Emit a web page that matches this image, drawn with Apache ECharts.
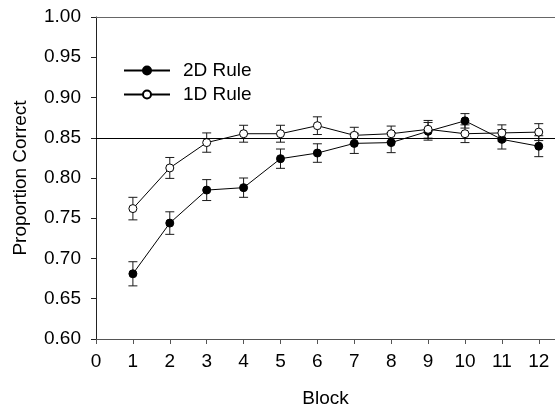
<!DOCTYPE html>
<html>
<head>
<meta charset="utf-8">
<script src="https://cdn.jsdelivr.net/npm/echarts@6/dist/echarts.min.js"></script>
<style>html,body{margin:0;padding:0;background:#fff}#c{width:555px;height:408px}</style>
</head>
<body>
<div id="c"></div>
<script>
const blocks = [1,2,3,4,5,6,7,8,9,10,11,12];
const rule2D = [0.681,0.744,0.785,0.788,0.824,0.831,0.843,0.844,0.858,0.871,0.848,0.8395];
const rule2DErr = [0.015,0.014,0.013,0.012,0.012,0.0115,0.0125,0.0125,0.011,0.009,0.012,0.013];
const rule1D = [0.762,0.8125,0.844,0.855,0.855,0.865,0.853,0.855,0.8605,0.855,0.856,0.857];
const rule1DErr = [0.014,0.013,0.012,0.0105,0.0105,0.011,0.01,0.0095,0.011,0.011,0.01,0.0105];
const xTicks = [0,1,2,3,4,5,6,7,8,9,10,11,12];
const yTicks = [0.60,0.65,0.70,0.75,0.80,0.85,0.90,0.95,1.00];
const refLine = 0.85;

const FONT = 'Liberation Sans';
const chart = echarts.init(document.getElementById('c'));

function errData(vals, errs){ return blocks.map((b,i)=>[b, vals[i], errs[i]]); }
function errRender(params, api){
  const x = api.value(0), y = api.value(1), e = api.value(2);
  const t = api.coord([x, y+e]), b = api.coord([x, y-e]);
  const hw = 4.5, st = {stroke:'#1a1a1a', lineWidth:1};
  return {type:'group', children:[
    {type:'line', shape:{x1:t[0],y1:t[1],x2:b[0],y2:b[1]}, style:st},
    {type:'line', shape:{x1:t[0]-hw,y1:t[1],x2:t[0]+hw,y2:t[1]}, style:st},
    {type:'line', shape:{x1:b[0]-hw,y1:b[1],x2:b[0]+hw,y2:b[1]}, style:st}
  ]};
}

chart.setOption({
  animation:false,
  backgroundColor:'#fff',
  textStyle:{fontFamily:FONT},
  grid:{left:96, right:0, top:17, bottom:69, containLabel:false, outerBoundsMode:'none'},
  legend:{
    orient:'vertical', left:123, top:61, padding:0,
    itemWidth:46, itemHeight:10, itemGap:5,
    data:['2D Rule','1D Rule'],
    textStyle:{fontFamily:FONT, fontSize:19, color:'#000', padding:[0,0,0,8]}
  },
  xAxis:[{
    type:'value', min:0, max:12.44, interval:1,
    name:'Block', nameLocation:'middle', nameGap:50,
    nameTextStyle:{fontFamily:FONT, fontSize:19, color:'#000'},
    axisLine:{show:true, lineStyle:{color:'#555', width:1}},
    axisTick:{show:true, length:5, inside:false, customValues:xTicks, lineStyle:{color:'#555'}},
    axisLabel:{fontFamily:FONT, fontSize:19, color:'#000', margin:13, customValues:xTicks},
    splitLine:{show:false}
  },{
    type:'value', position:'top', min:0, max:12.44,
    axisLine:{show:true, lineStyle:{color:'#666', width:1}},
    axisTick:{show:false}, axisLabel:{show:false}, splitLine:{show:false}
  }],
  yAxis:{
    type:'value', min:0.6, max:1.0, interval:0.05,
    name:'Proportion Correct', nameLocation:'middle', nameGap:66,
    nameTextStyle:{fontFamily:FONT, fontSize:19, color:'#000'},
    axisLine:{show:true, lineStyle:{color:'#222', width:1}},
    axisTick:{show:true, length:5, lineStyle:{color:'#222'}},
    axisLabel:{fontFamily:FONT, fontSize:19, color:'#000', margin:15, customValues:yTicks,
      formatter:v=>v.toFixed(2)},
    splitLine:{show:false}
  },
  series:[
    {type:'custom', name:'err2D', renderItem:errRender, data:errData(rule2D, rule2DErr), z:1, silent:true},
    {type:'custom', name:'err1D', renderItem:errRender, data:errData(rule1D, rule1DErr), z:1, silent:true},
    {
      type:'line', name:'2D Rule', data:blocks.map((b,i)=>[b, rule2D[i]]),
      symbol:'circle', symbolSize:8, showAllSymbol:true, z:3,
      lineStyle:{color:'#000', width:1},
      itemStyle:{color:'#000', borderColor:'#000', borderWidth:1},
      markLine:{silent:true, symbol:'none', label:{show:false},
        lineStyle:{color:'#000', width:1, type:'solid'},
        data:[{yAxis:refLine}]}
    },
    {
      type:'line', name:'1D Rule', data:blocks.map((b,i)=>[b, rule1D[i]]),
      symbol:'circle', symbolSize:8, showAllSymbol:true, z:4,
      lineStyle:{color:'#000', width:1},
      itemStyle:{color:'#fff', borderColor:'#000', borderWidth:1}
    }
  ]
});
</script>
</body>
</html>
